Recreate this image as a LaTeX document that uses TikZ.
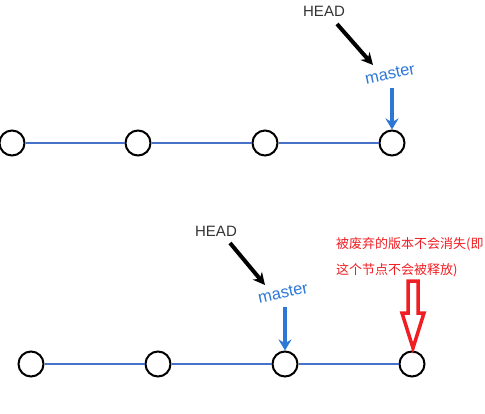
\documentclass[tikz,border=0pt]{standalone}
\usepackage{fontspec}
\setmainfont{Liberation Sans}
\newfontfamily\cjk{Noto Sans CJK SC}
\usetikzlibrary{arrows.meta}
\definecolor{lineblue}{RGB}{70,115,200}
\definecolor{arrowblue}{RGB}{45,120,215}
\definecolor{textred}{RGB}{240,30,35}
\begin{document}
\begin{tikzpicture}[x=1pt,y=-1pt,
        commit/.style={circle, draw=black, line width=2pt, fill=white, minimum size=25pt, inner sep=0pt},
        link/.style={lineblue, line width=1.6pt},
        headlabel/.style={text=black!80, font=\fontsize{15}{18}\selectfont},
        branchlabel/.style={text=arrowblue, font=\fontsize{16.5}{18}\selectfont, rotate=12},
        headarrow/.style={black, line width=4pt, -{Stealth[length=12pt,width=12pt]}},
        brancharrow/.style={arrowblue, line width=4pt, -{Stealth[length=11pt,width=13pt]}},
        note/.style={text=textred, font=\cjk\fontsize{13}{15}\selectfont, anchor=base west, inner sep=0pt}]
        \useasboundingbox (0,0) rectangle (485,413);
        % top row
        \foreach \i/\x in {1/12,2/138,3/265,4/392} \node[commit] (c\i) at (\x,143) {};
        \foreach \i/\j in {1/2,2/3,3/4} \draw[link] (c\i) -- (c\j);
        \node[headlabel] (h1) at (324,11) {HEAD};
        \node[branchlabel] (m1) at (390,74) {master};
        \draw[headarrow] ([shift={(13,13)}]h1.center) -- ([shift={(-17,-9)}]m1.center);
        \draw[brancharrow] ([yshift=-14pt]m1.center -| c4) -- (c4.north);
        % bottom row
        \foreach \i/\x in {1/31,2/158,3/285,4/412} \node[commit] (d\i) at (\x,364) {};
        \foreach \i/\j in {1/2,2/3,3/4} \draw[link] (d\i) -- (d\j);
        \node[headlabel] (h2) at (216,231) {HEAD};
        \node[branchlabel] (m2) at (283,293) {master};
        \draw[headarrow] ([shift={(14,12)}]h2.center) -- ([shift={(-18,-8)}]m2.center);
        \draw[brancharrow] ([yshift=-14pt]m2.center -| d3) -- (d3.north);
        % note on the abandoned commit
        \node[note] (r1) at (336,248) {被废弃的版本不会消失(即};
        \node[note] (r2) at (336,274) {这个节点不会被释放)};
        \draw[textred, line width=3.5pt, line join=miter]
            (408,281) -- (418,281) -- (418,313) -- (424,313) -- (413,348)
            -- (402,313) -- (408,313) -- cycle;
\end{tikzpicture}
\end{document}
